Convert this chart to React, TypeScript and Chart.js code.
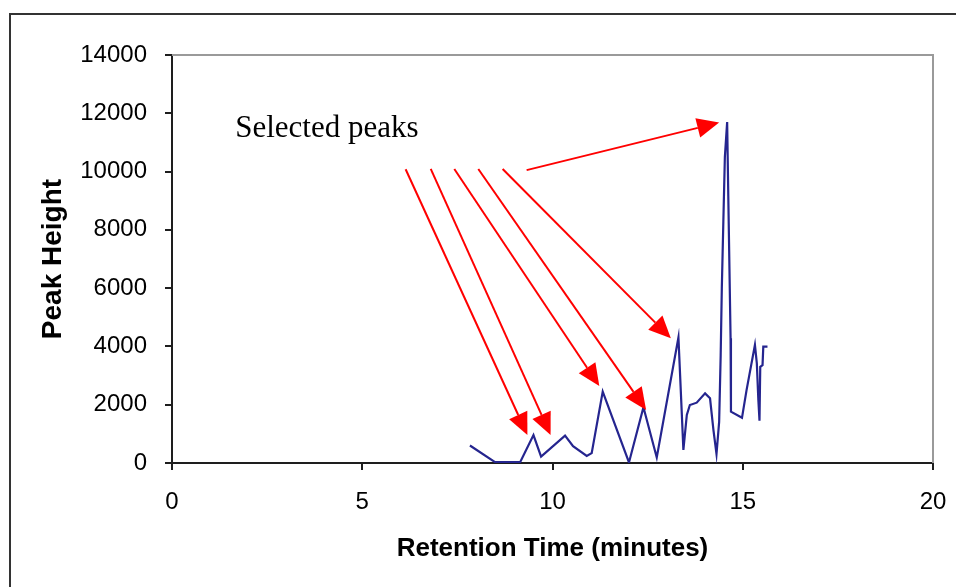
import React, { useEffect, useRef } from "react";
import { Chart, registerables } from "chart.js";

Chart.register(...registerables);

// Chromatogram trace
const retentionTime = [
  7.83, 8.49, 9.15, 9.5, 9.7, 10.33, 10.54, 10.9, 11.03, 11.32, 12.01, 12.39, 12.74, 13.31,
  13.44, 13.53, 13.61, 13.79, 14.01, 14.14, 14.23, 14.31, 14.38, 14.42, 14.45, 14.49, 14.53,
  14.59, 14.62, 14.68, 14.69, 14.98, 15.1, 15.23, 15.32, 15.37, 15.41, 15.44, 15.46, 15.52,
  15.54, 15.65,
];
const peakHeight = [
  600, 30, 30, 960, 220, 940, 580, 240, 340, 2450, 20, 1910, 190, 4310, 450, 1650, 1990, 2070,
  2390, 2220, 1130, 310, 1420, 3700, 6000, 8280, 10500, 11700, 9150, 4280, 1760, 1550, 2500,
  3420, 4050, 3420, 2160, 1450, 3300, 3360, 3990, 3990,
];

// Axis ticks
const xTicks = [0, 5, 10, 15, 20];
const yTicks = [0, 2000, 4000, 6000, 8000, 10000, 12000, 14000];

// Annotation: label and arrows (in data units)
const annotationText = "Selected peaks";
const annotationX = 1.66;
const annotationY = 11170;
const arrowTailX = [6.14, 6.8, 7.42, 8.05, 8.69, 9.32];
const arrowTailY = [10080, 10090, 10090, 10090, 10090, 10050];
const arrowHeadX = [9.34, 9.95, 11.23, 12.46, 13.11, 14.38];
const arrowHeadY = [960, 960, 2640, 1820, 4280, 11680];

const xTitle = "Retention Time (minutes)";
const yTitle = "Peak Height";

function drawArrow(ctx: CanvasRenderingContext2D, x1: number, y1: number, x2: number, y2: number) {
  const ang = Math.atan2(y2 - y1, x2 - x1);
  const len = 22;
  const hw = 10;
  const bx = x2 - len * Math.cos(ang);
  const by = y2 - len * Math.sin(ang);
  ctx.beginPath();
  ctx.moveTo(x1, y1);
  ctx.lineTo(bx, by);
  ctx.stroke();
  ctx.beginPath();
  ctx.moveTo(x2, y2);
  ctx.lineTo(bx + hw * Math.sin(ang), by - hw * Math.cos(ang));
  ctx.lineTo(bx - hw * Math.sin(ang), by + hw * Math.cos(ang));
  ctx.closePath();
  ctx.fill();
}

const annotationPlugin = {
  id: "peakAnnotations",
  beforeDatasetsDraw(chart: any) {
    const { ctx, chartArea } = chart;
    ctx.save();
    ctx.strokeStyle = "#9a9a9a";
    ctx.lineWidth = 2;
    ctx.beginPath();
    ctx.moveTo(chartArea.left, chartArea.top);
    ctx.lineTo(chartArea.right, chartArea.top);
    ctx.lineTo(chartArea.right, chartArea.bottom);
    ctx.stroke();
    ctx.restore();
  },
  afterDatasetsDraw(chart: any) {
    const { ctx, scales } = chart;
    const x = scales.x;
    const y = scales.y;
    ctx.save();
    ctx.fillStyle = "#000";
    ctx.font = '31px "Liberation Serif", "Times New Roman", serif';
    ctx.textAlign = "left";
    ctx.textBaseline = "alphabetic";
    ctx.fillText(annotationText, x.getPixelForValue(annotationX), y.getPixelForValue(annotationY));
    ctx.strokeStyle = "#ff0000";
    ctx.fillStyle = "#ff0000";
    ctx.lineWidth = 2;
    for (let i = 0; i < arrowTailX.length; i++) {
      drawArrow(
        ctx,
        x.getPixelForValue(arrowTailX[i]),
        y.getPixelForValue(arrowTailY[i]),
        x.getPixelForValue(arrowHeadX[i]),
        y.getPixelForValue(arrowHeadY[i])
      );
    }
    ctx.restore();
  },
};

export default function App() {
  const ref = useRef<HTMLCanvasElement>(null);

  useEffect(() => {
    const canvas = ref.current;
    if (!canvas) return;
    const axisColor = "#1e1e1e";
    const chart = new Chart(canvas, {
      type: "line",
      data: {
        datasets: [
          {
            label: "Peak Height",
            data: retentionTime.map((t, i) => ({ x: t, y: peakHeight[i] })),
            borderColor: "#25258f",
            borderWidth: 2.2,
            pointRadius: 0,
            tension: 0,
            fill: false,
          },
        ],
      },
      options: {
        animation: false,
        responsive: false,
        devicePixelRatio: 1,
        layout: { padding: { top: 55, right: 23, left: 0, bottom: 0 } },
        plugins: {
          legend: { display: false },
          tooltip: { enabled: false },
        },
        scales: {
          x: {
            type: "linear",
            min: xTicks[0],
            max: xTicks[xTicks.length - 1],
            afterBuildTicks: (scale: any) => {
              scale.ticks = xTicks.map((v) => ({ value: v }));
            },
            afterFit: (scale: any) => {
              scale.height = 124;
              scale.paddingLeft = 0;
              scale.paddingRight = 0;
            },
            grid: {
              drawOnChartArea: false,
              drawTicks: true,
              tickLength: 7,
              color: axisColor,
              lineWidth: 2,
            },
            border: { display: true, color: axisColor, width: 2 },
            ticks: {
              color: "#000",
              padding: 18,
              font: { family: '"Liberation Sans", Arial, sans-serif', size: 24 },
            },
            title: {
              display: true,
              text: xTitle,
              color: "#000",
              padding: { top: 0, bottom: 23 },
              font: { family: '"Liberation Sans", Arial, sans-serif', size: 26, weight: "bold" },
            },
          },
          y: {
            type: "linear",
            min: yTicks[0],
            max: yTicks[yTicks.length - 1],
            afterBuildTicks: (scale: any) => {
              scale.ticks = yTicks.map((v) => ({ value: v }));
            },
            afterFit: (scale: any) => {
              scale.width = 172;
              scale.paddingTop = 0;
              scale.paddingBottom = 0;
            },
            grid: {
              drawOnChartArea: false,
              drawTicks: true,
              tickLength: 7,
              color: axisColor,
              lineWidth: 2,
            },
            border: { display: true, color: axisColor, width: 2 },
            ticks: {
              color: "#000",
              padding: 18,
              callback: (v: any) => String(v),
              font: { family: '"Liberation Sans", Arial, sans-serif', size: 24 },
            },
            title: {
              display: true,
              text: yTitle,
              color: "#000",
              padding: { top: 36, bottom: 0 },
              font: { family: '"Liberation Sans", Arial, sans-serif', size: 28, weight: "bold" },
            },
          },
        },
      },
      plugins: [annotationPlugin],
    });
    return () => chart.destroy();
  }, []);

  return (
    <div
      style={{
        position: "absolute",
        left: 0,
        top: 0,
        width: 956,
        height: 587,
        overflow: "hidden",
        background: "#fff",
      }}
    >
      <canvas
        ref={ref}
        width={956}
        height={587}
        style={{ position: "absolute", left: 0, top: 0, width: 956, height: 587 }}
      />
      <div
        style={{
          position: "absolute",
          left: 9,
          top: 13,
          width: 1200,
          height: 1200,
          borderLeft: "2px solid #333",
          borderTop: "2px solid #333",
          pointerEvents: "none",
        }}
      />
    </div>
  );
}
